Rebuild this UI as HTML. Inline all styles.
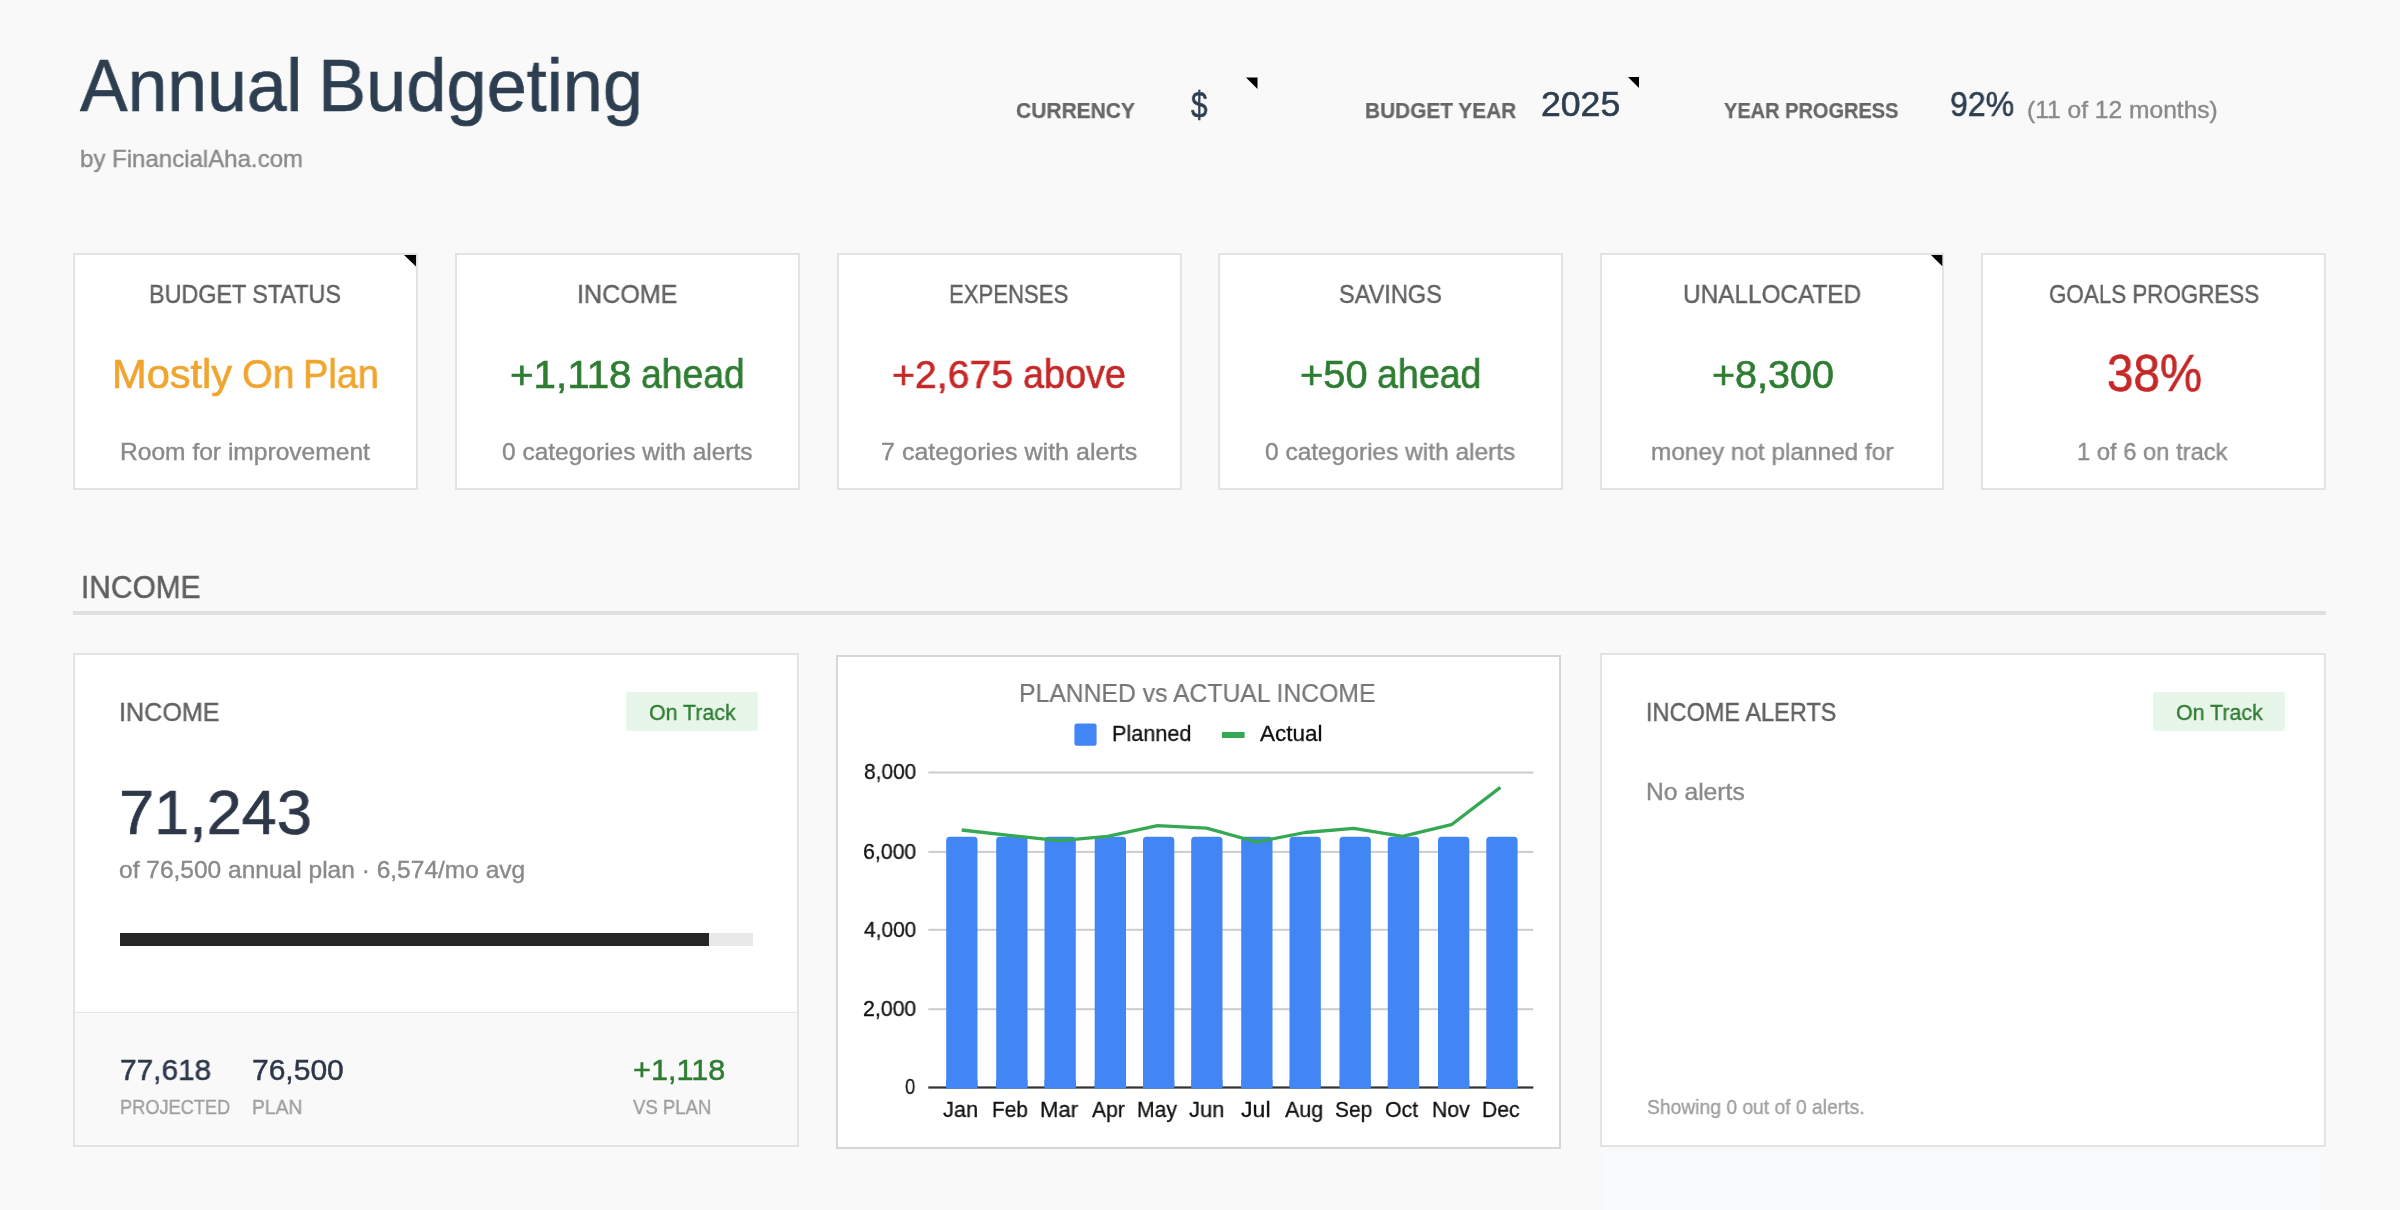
<!DOCTYPE html>
<html lang="en"><head><meta charset="utf-8"><title>Annual Budgeting</title>
<style>
html,body{margin:0;padding:0}
body{width:2400px;height:1210px;background:#f9f9f9;position:relative;font-family:"Liberation Sans",sans-serif}
.b{position:absolute}
.t{position:absolute;white-space:nowrap;transform-origin:0 0;will-change:transform;font-family:"Liberation Sans",sans-serif}
svg{position:absolute;left:0;top:0}
</style></head><body>
<div class="b" style="left:73px;top:253px;width:345px;height:237px;background:#fff;border:2px solid #e3e3e3;box-sizing:border-box"></div>
<div class="b" style="left:455px;top:253px;width:345px;height:237px;background:#fff;border:2px solid #e3e3e3;box-sizing:border-box"></div>
<div class="b" style="left:837px;top:253px;width:345px;height:237px;background:#fff;border:2px solid #e3e3e3;box-sizing:border-box"></div>
<div class="b" style="left:1218px;top:253px;width:345px;height:237px;background:#fff;border:2px solid #e3e3e3;box-sizing:border-box"></div>
<div class="b" style="left:1600px;top:253px;width:344px;height:237px;background:#fff;border:2px solid #e3e3e3;box-sizing:border-box"></div>
<div class="b" style="left:1981px;top:253px;width:345px;height:237px;background:#fff;border:2px solid #e3e3e3;box-sizing:border-box"></div>
<div class="b" style="left:1604px;top:1152px;width:718px;height:58px;background:#f8fafb"></div>
<div class="b" style="left:73px;top:611px;width:2253px;height:4px;background:#e0e0e0"></div>
<div class="b" style="left:73px;top:653px;width:726px;height:494px;background:#fff;border:2px solid #e3e3e3;box-sizing:border-box"></div>
<div class="b" style="left:75px;top:1012px;width:722px;height:133px;background:#f9f9f9;border-top:1px solid #e6e6e6;box-sizing:border-box"></div>
<div class="b" style="left:119.5px;top:933px;width:633.5px;height:13px;background:#e9e9e9"></div>
<div class="b" style="left:119.5px;top:933px;width:589.5px;height:13px;background:#262626"></div>
<div class="b" style="left:836px;top:655px;width:725px;height:494px;background:#fff;border:2px solid #d6d6d6;box-sizing:border-box"></div>
<div class="b" style="left:1600px;top:653px;width:726px;height:494px;background:#fff;border:2px solid #e3e3e3;box-sizing:border-box"></div>
<div class="b" style="left:626px;top:692px;width:131.5px;height:38.5px;background:#e8f5e9;border-radius:3px"></div>
<div class="b" style="left:2153px;top:692px;width:131.5px;height:38.5px;background:#e8f5e9;border-radius:3px"></div>
<svg width="2400" height="1210" viewBox="0 0 2400 1210">
<polygon points="1246,77.5 1257.5,77.5 1257.5,89" fill="#000"/>
<polygon points="1628,77 1639,77 1639,88" fill="#000"/>
<polygon points="404,255 416,255 416,266.5" fill="#000"/>
<polygon points="1931,255 1942.3,255 1942.3,266.2" fill="#000"/>
<rect x="928.3" y="771.5" width="605" height="2" fill="#cccccc"/>
<rect x="928.3" y="850.9" width="605" height="2" fill="#cccccc"/>
<rect x="928.3" y="928.8" width="605" height="2" fill="#cccccc"/>
<rect x="928.3" y="1008.2" width="605" height="2" fill="#cccccc"/>
<path d="M946.2,1087.5 V840.3 Q946.2,836.8 949.7,836.8 H974.0 Q977.5,836.8 977.5,840.3 V1087.5 Z" fill="#4285f4"/>
<path d="M996.2,1087.5 V840.3 Q996.2,836.8 999.7,836.8 H1024.0 Q1027.5,836.8 1027.5,840.3 V1087.5 Z" fill="#4285f4"/>
<path d="M1044.5,1087.5 V840.3 Q1044.5,836.8 1048.0,836.8 H1072.3 Q1075.8,836.8 1075.8,840.3 V1087.5 Z" fill="#4285f4"/>
<path d="M1094.7,1087.5 V840.3 Q1094.7,836.8 1098.2,836.8 H1122.5 Q1126.0,836.8 1126.0,840.3 V1087.5 Z" fill="#4285f4"/>
<path d="M1143,1087.5 V840.3 Q1143,836.8 1146.5,836.8 H1170.8 Q1174.3,836.8 1174.3,840.3 V1087.5 Z" fill="#4285f4"/>
<path d="M1191.2,1087.5 V840.3 Q1191.2,836.8 1194.7,836.8 H1219.0 Q1222.5,836.8 1222.5,840.3 V1087.5 Z" fill="#4285f4"/>
<path d="M1241.2,1087.5 V840.3 Q1241.2,836.8 1244.7,836.8 H1269.0 Q1272.5,836.8 1272.5,840.3 V1087.5 Z" fill="#4285f4"/>
<path d="M1289.5,1087.5 V840.3 Q1289.5,836.8 1293.0,836.8 H1317.3 Q1320.8,836.8 1320.8,840.3 V1087.5 Z" fill="#4285f4"/>
<path d="M1339.5,1087.5 V840.3 Q1339.5,836.8 1343.0,836.8 H1367.3 Q1370.8,836.8 1370.8,840.3 V1087.5 Z" fill="#4285f4"/>
<path d="M1387.8,1087.5 V840.3 Q1387.8,836.8 1391.3,836.8 H1415.6 Q1419.1,836.8 1419.1,840.3 V1087.5 Z" fill="#4285f4"/>
<path d="M1438,1087.5 V840.3 Q1438,836.8 1441.5,836.8 H1465.8 Q1469.3,836.8 1469.3,840.3 V1087.5 Z" fill="#4285f4"/>
<path d="M1486.3,1087.5 V840.3 Q1486.3,836.8 1489.8,836.8 H1514.1 Q1517.6,836.8 1517.6,840.3 V1087.5 Z" fill="#4285f4"/>
<rect x="928.3" y="1086.4" width="605" height="2.2" fill="#333333"/>
<rect x="946.2" y="1080" width="31.3" height="8.6" fill="#4285f4"/>
<rect x="996.2" y="1080" width="31.3" height="8.6" fill="#4285f4"/>
<rect x="1044.5" y="1080" width="31.3" height="8.6" fill="#4285f4"/>
<rect x="1094.7" y="1080" width="31.3" height="8.6" fill="#4285f4"/>
<rect x="1143" y="1080" width="31.3" height="8.6" fill="#4285f4"/>
<rect x="1191.2" y="1080" width="31.3" height="8.6" fill="#4285f4"/>
<rect x="1241.2" y="1080" width="31.3" height="8.6" fill="#4285f4"/>
<rect x="1289.5" y="1080" width="31.3" height="8.6" fill="#4285f4"/>
<rect x="1339.5" y="1080" width="31.3" height="8.6" fill="#4285f4"/>
<rect x="1387.8" y="1080" width="31.3" height="8.6" fill="#4285f4"/>
<rect x="1438" y="1080" width="31.3" height="8.6" fill="#4285f4"/>
<rect x="1486.3" y="1080" width="31.3" height="8.6" fill="#4285f4"/>
<polyline fill="none" stroke="#34a853" stroke-width="3.3" stroke-linejoin="round" stroke-linecap="butt" points="961.7,830.0 1011.3,835.6 1059.8,840.7 1107.5,836.4 1157.5,825.6 1206.5,828.2 1256.5,842.0 1305,832.5 1353.8,828.4 1402.5,836.3 1451.4,824.7 1500.4,787.4"/>
<rect x="1074.4" y="723.6" width="22.2" height="22.2" rx="2.5" fill="#4285f4"/>
<rect x="1222" y="732" width="22.6" height="6" fill="#34a853"/>
</svg>
<div class="t" style="left:80.31px;top:48px;font-size:75.0px;line-height:75.0px;color:#2c3e50;-webkit-text-stroke:0.66px #2c3e50;transform:scaleX(0.9519)">Annual</div>
<div class="t" style="left:318.14px;top:48px;font-size:75.0px;line-height:75.0px;color:#2c3e50;-webkit-text-stroke:0.66px #2c3e50;transform:scaleX(0.9623)">Budgeting</div>
<div class="t" style="left:80.21px;top:147px;font-size:24.5px;line-height:24.5px;color:#8a8a8a;-webkit-text-stroke:0.39px #8a8a8a;transform:scaleX(0.9805)">by FinancialAha.com</div>
<div class="t" style="left:1016.12px;top:100px;font-size:22.0px;line-height:22.0px;color:#666666;font-weight:700;-webkit-text-stroke:0.25px #666666;transform:scaleX(0.9541)">CURRENCY</div>
<div class="t" style="left:1191.24px;top:87px;font-size:37.5px;line-height:37.5px;color:#2c3e50;-webkit-text-stroke:0.6px #2c3e50;transform:scaleX(0.7870)">$</div>
<div class="t" style="left:1365.17px;top:100px;font-size:22.0px;line-height:22.0px;color:#666666;font-weight:700;-webkit-text-stroke:0.25px #666666;transform:scaleX(0.9468)">BUDGET YEAR</div>
<div class="t" style="left:1541.28px;top:87px;font-size:35.5px;line-height:35.5px;color:#2c3e50;-webkit-text-stroke:0.57px #2c3e50;transform:scaleX(1.0026)">2025</div>
<div class="t" style="left:1724.11px;top:100px;font-size:22.0px;line-height:22.0px;color:#666666;font-weight:700;-webkit-text-stroke:0.25px #666666;transform:scaleX(0.9086)">YEAR PROGRESS</div>
<div class="t" style="left:1950.05px;top:87px;font-size:35.5px;line-height:35.5px;color:#2c3e50;-webkit-text-stroke:0.57px #2c3e50;transform:scaleX(0.9036)">92%</div>
<div class="t" style="left:2027.19px;top:98px;font-size:24.5px;line-height:24.5px;color:#8a8a8a;-webkit-text-stroke:0.39px #8a8a8a;transform:scaleX(1.0030)">(11 of 12 months)</div>
<div class="t" style="left:149.12px;top:281px;font-size:26.5px;line-height:26.5px;color:#616161;-webkit-text-stroke:0.42px #616161;transform:scaleX(0.8809)">BUDGET STATUS</div>
<div class="t" style="left:576.80px;top:281px;font-size:26.5px;line-height:26.5px;color:#616161;-webkit-text-stroke:0.42px #616161;transform:scaleX(0.9475)">INCOME</div>
<div class="t" style="left:949.21px;top:281px;font-size:26.5px;line-height:26.5px;color:#616161;-webkit-text-stroke:0.42px #616161;transform:scaleX(0.8349)">EXPENSES</div>
<div class="t" style="left:1339.10px;top:281px;font-size:26.5px;line-height:26.5px;color:#616161;-webkit-text-stroke:0.42px #616161;transform:scaleX(0.8875)">SAVINGS</div>
<div class="t" style="left:1683.36px;top:281px;font-size:26.5px;line-height:26.5px;color:#616161;-webkit-text-stroke:0.42px #616161;transform:scaleX(0.9186)">UNALLOCATED</div>
<div class="t" style="left:2049.03px;top:281px;font-size:26.5px;line-height:26.5px;color:#616161;-webkit-text-stroke:0.42px #616161;transform:scaleX(0.8444)">GOALS PROGRESS</div>
<div class="t" style="left:111.63px;top:353px;font-size:41.5px;line-height:41.5px;color:#f0a52f;-webkit-text-stroke:0.66px #f0a52f;transform:scaleX(1.0016)">Mostly</div>
<div class="t" style="left:241.56px;top:353px;font-size:41.5px;line-height:41.5px;color:#f0a52f;-webkit-text-stroke:0.66px #f0a52f;transform:scaleX(0.9501)">On</div>
<div class="t" style="left:302.76px;top:353px;font-size:41.5px;line-height:41.5px;color:#f0a52f;-webkit-text-stroke:0.66px #f0a52f;transform:scaleX(0.9130)">Plan</div>
<div class="t" style="left:510.20px;top:355px;font-size:39.5px;line-height:39.5px;color:#2e7d32;-webkit-text-stroke:0.63px #2e7d32;transform:scaleX(1.0217)">+1,118</div>
<div class="t" style="left:640.90px;top:353px;font-size:41.5px;line-height:41.5px;color:#2e7d32;-webkit-text-stroke:0.66px #2e7d32;transform:scaleX(0.8984)">ahead</div>
<div class="t" style="left:891.82px;top:355px;font-size:39.5px;line-height:39.5px;color:#c62828;-webkit-text-stroke:0.63px #c62828;transform:scaleX(0.9936)">+2,675</div>
<div class="t" style="left:1022.89px;top:353px;font-size:41.5px;line-height:41.5px;color:#c62828;-webkit-text-stroke:0.66px #c62828;transform:scaleX(0.9091)">above</div>
<div class="t" style="left:1300.31px;top:355px;font-size:39.5px;line-height:39.5px;color:#2e7d32;-webkit-text-stroke:0.63px #2e7d32;transform:scaleX(1.0081)">+50</div>
<div class="t" style="left:1376.69px;top:353px;font-size:41.5px;line-height:41.5px;color:#2e7d32;-webkit-text-stroke:0.66px #2e7d32;transform:scaleX(0.9046)">ahead</div>
<div class="t" style="left:1711.71px;top:355px;font-size:39.5px;line-height:39.5px;color:#2e7d32;-webkit-text-stroke:0.63px #2e7d32;transform:scaleX(1.0002)">+8,300</div>
<div class="t" style="left:2107.19px;top:347px;font-size:52.5px;line-height:52.5px;color:#c62828;-webkit-text-stroke:0.66px #c62828;transform:scaleX(0.9044)">38%</div>
<div class="t" style="left:120.29px;top:440px;font-size:24.5px;line-height:24.5px;color:#8a8a8a;-webkit-text-stroke:0.39px #8a8a8a;transform:scaleX(1.0030)">Room for improvement</div>
<div class="t" style="left:502.09px;top:440px;font-size:24.5px;line-height:24.5px;color:#8a8a8a;-webkit-text-stroke:0.39px #8a8a8a;transform:scaleX(1.0000)">0 categories with alerts</div>
<div class="t" style="left:880.98px;top:440px;font-size:24.5px;line-height:24.5px;color:#8a8a8a;-webkit-text-stroke:0.39px #8a8a8a;transform:scaleX(1.0228)">7 categories with alerts</div>
<div class="t" style="left:1265.39px;top:440px;font-size:24.5px;line-height:24.5px;color:#8a8a8a;-webkit-text-stroke:0.39px #8a8a8a;transform:scaleX(0.9988)">0 categories with alerts</div>
<div class="t" style="left:1651.20px;top:440px;font-size:24.5px;line-height:24.5px;color:#8a8a8a;-webkit-text-stroke:0.39px #8a8a8a;transform:scaleX(0.9941)">money not planned for</div>
<div class="t" style="left:2076.62px;top:440px;font-size:24.5px;line-height:24.5px;color:#8a8a8a;-webkit-text-stroke:0.39px #8a8a8a;transform:scaleX(0.9691)">1 of 6 on track</div>
<div class="t" style="left:80.81px;top:572px;font-size:31.0px;line-height:31.0px;color:#5f5f5f;-webkit-text-stroke:0.5px #5f5f5f;transform:scaleX(0.9645)">INCOME</div>
<div class="t" style="left:119.20px;top:699px;font-size:26.5px;line-height:26.5px;color:#616161;-webkit-text-stroke:0.42px #616161;transform:scaleX(0.9485)">INCOME</div>
<div class="t" style="left:649.22px;top:702px;font-size:22.5px;line-height:22.5px;color:#2e7d32;-webkit-text-stroke:0.36px #2e7d32;transform:scaleX(0.9500)">On Track</div>
<div class="t" style="left:119.35px;top:781px;font-size:63.5px;line-height:63.5px;color:#2d3748;-webkit-text-stroke:0.66px #2d3748;transform:scaleX(0.9928)">71,243</div>
<div class="t" style="left:119.19px;top:858px;font-size:24.5px;line-height:24.5px;color:#8a8a8a;-webkit-text-stroke:0.39px #8a8a8a;transform:scaleX(1.0008)">of 76,500 annual plan · 6,574/mo avg</div>
<div class="t" style="left:120.24px;top:1055px;font-size:30.0px;line-height:30.0px;color:#2d3748;-webkit-text-stroke:0.48px #2d3748;transform:scaleX(0.9939)">77,618</div>
<div class="t" style="left:251.94px;top:1055px;font-size:30.0px;line-height:30.0px;color:#2d3748;-webkit-text-stroke:0.48px #2d3748;transform:scaleX(0.9972)">76,500</div>
<div class="t" style="left:120.28px;top:1096px;font-size:21.0px;line-height:21.0px;color:#9e9e9e;-webkit-text-stroke:0.34px #9e9e9e;transform:scaleX(0.8666)">PROJECTED</div>
<div class="t" style="left:251.94px;top:1096px;font-size:21.0px;line-height:21.0px;color:#9e9e9e;-webkit-text-stroke:0.34px #9e9e9e;transform:scaleX(0.9164)">PLAN</div>
<div class="t" style="left:633.22px;top:1055px;font-size:30.0px;line-height:30.0px;color:#2e7d32;-webkit-text-stroke:0.48px #2e7d32;transform:scaleX(1.0206)">+1,118</div>
<div class="t" style="left:633.25px;top:1096px;font-size:21.0px;line-height:21.0px;color:#9e9e9e;-webkit-text-stroke:0.34px #9e9e9e;transform:scaleX(0.8830)">VS PLAN</div>
<div class="t" style="left:1646.21px;top:699px;font-size:26.5px;line-height:26.5px;color:#616161;-webkit-text-stroke:0.42px #616161;transform:scaleX(0.8876)">INCOME ALERTS</div>
<div class="t" style="left:2176.02px;top:702px;font-size:22.5px;line-height:22.5px;color:#2e7d32;-webkit-text-stroke:0.36px #2e7d32;transform:scaleX(0.9511)">On Track</div>
<div class="t" style="left:1645.98px;top:780px;font-size:24.5px;line-height:24.5px;color:#8a8a8a;-webkit-text-stroke:0.39px #8a8a8a;transform:scaleX(1.0075)">No alerts</div>
<div class="t" style="left:1646.76px;top:1096px;font-size:21.0px;line-height:21.0px;color:#9e9e9e;-webkit-text-stroke:0.34px #9e9e9e;transform:scaleX(0.9177)">Showing 0 out of 0 alerts.</div>
<div class="t" style="left:1019.23px;top:680px;font-size:26.5px;line-height:26.5px;color:#757575;-webkit-text-stroke:0.2px #757575;transform:scaleX(0.9336)">PLANNED vs ACTUAL INCOME</div>
<div class="t" style="left:1111.88px;top:723px;font-size:22.5px;line-height:22.5px;color:#111111;-webkit-text-stroke:0.3px #111111;transform:scaleX(0.9624)">Planned</div>
<div class="t" style="left:1259.55px;top:723px;font-size:22.5px;line-height:22.5px;color:#111111;-webkit-text-stroke:0.3px #111111;transform:scaleX(1.0010)">Actual</div>
<div class="t" style="left:863.55px;top:762px;font-size:21.5px;line-height:21.5px;color:#111111;-webkit-text-stroke:0.3px #111111;transform:scaleX(0.9715)">8,000</div>
<div class="t" style="left:862.56px;top:842px;font-size:21.5px;line-height:21.5px;color:#111111;-webkit-text-stroke:0.3px #111111;transform:scaleX(0.9897)">6,000</div>
<div class="t" style="left:863.55px;top:920px;font-size:21.5px;line-height:21.5px;color:#111111;-webkit-text-stroke:0.3px #111111;transform:scaleX(0.9715)">4,000</div>
<div class="t" style="left:862.56px;top:999px;font-size:21.5px;line-height:21.5px;color:#111111;-webkit-text-stroke:0.3px #111111;transform:scaleX(0.9897)">2,000</div>
<div class="t" style="left:905.43px;top:1077px;font-size:21.5px;line-height:21.5px;color:#111111;-webkit-text-stroke:0.3px #111111;transform:scaleX(0.8537)">0</div>
<div class="t" style="left:943.45px;top:1099px;font-size:22.5px;line-height:22.5px;color:#111111;-webkit-text-stroke:0.3px #111111;transform:scaleX(0.9705)">Jan</div>
<div class="t" style="left:992.21px;top:1099px;font-size:22.5px;line-height:22.5px;color:#111111;-webkit-text-stroke:0.3px #111111;transform:scaleX(0.9266)">Feb</div>
<div class="t" style="left:1039.96px;top:1099px;font-size:22.5px;line-height:22.5px;color:#111111;-webkit-text-stroke:0.3px #111111;transform:scaleX(0.9830)">Mar</div>
<div class="t" style="left:1091.84px;top:1099px;font-size:22.5px;line-height:22.5px;color:#111111;-webkit-text-stroke:0.3px #111111;transform:scaleX(0.9380)">Apr</div>
<div class="t" style="left:1136.70px;top:1099px;font-size:22.5px;line-height:22.5px;color:#111111;-webkit-text-stroke:0.3px #111111;transform:scaleX(0.9399)">May</div>
<div class="t" style="left:1189.15px;top:1099px;font-size:22.5px;line-height:22.5px;color:#111111;-webkit-text-stroke:0.3px #111111;transform:scaleX(0.9761)">Jun</div>
<div class="t" style="left:1241.35px;top:1099px;font-size:22.5px;line-height:22.5px;color:#111111;-webkit-text-stroke:0.3px #111111;transform:scaleX(1.0262)">Jul</div>
<div class="t" style="left:1285.44px;top:1099px;font-size:22.5px;line-height:22.5px;color:#111111;-webkit-text-stroke:0.3px #111111;transform:scaleX(0.9543)">Aug</div>
<div class="t" style="left:1334.71px;top:1099px;font-size:22.5px;line-height:22.5px;color:#111111;-webkit-text-stroke:0.3px #111111;transform:scaleX(0.9325)">Sep</div>
<div class="t" style="left:1385.49px;top:1099px;font-size:22.5px;line-height:22.5px;color:#111111;-webkit-text-stroke:0.3px #111111;transform:scaleX(0.9472)">Oct</div>
<div class="t" style="left:1432.20px;top:1099px;font-size:22.5px;line-height:22.5px;color:#111111;-webkit-text-stroke:0.3px #111111;transform:scaleX(0.9435)">Nov</div>
<div class="t" style="left:1481.70px;top:1099px;font-size:22.5px;line-height:22.5px;color:#111111;-webkit-text-stroke:0.3px #111111;transform:scaleX(0.9395)">Dec</div>
</body></html>
